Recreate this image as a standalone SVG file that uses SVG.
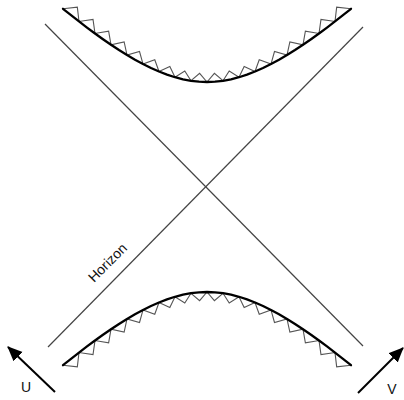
<svg xmlns="http://www.w3.org/2000/svg" width="404" height="400" viewBox="0 0 404 400">
<style>
.bg{fill:#fff}
.axis{stroke:#444;stroke-width:1.2;fill:none}
.curve{stroke:#000;stroke-width:2.3;fill:none;stroke-linejoin:round;stroke-linecap:round}
.teeth{stroke:#555;stroke-width:1.1;fill:none;stroke-linejoin:miter}
.arrow{stroke:#000;stroke-width:2;fill:none}
.lbl{font-family:"Liberation Sans",Arial,sans-serif;font-size:14px;fill:#111}
</style>
<defs>
<marker id="ah" markerUnits="userSpaceOnUse" markerWidth="16" markerHeight="14" refX="14" refY="6.5" orient="auto">
<path d="M0,0 L15,6.5 L0,13 z" fill="#000"/>
</marker>
</defs>
<rect class="bg" x="0" y="0" width="404" height="400"/>
<g id="connectors">
<line id="horizon-a" class="axis" x1="45" y1="24" x2="363" y2="346"/>
<line id="horizon-b" class="axis" x1="48" y1="347" x2="363" y2="27"/>
</g>
<g id="top-singularity">
<polyline class="teeth" points="63,8.78 77.33,7.11 79,21.44 93.02,19.46 95,33.48 108.63,31.11 111,44.73 124.14,41.87 127,55 139.52,51.52 143,64.03 154.76,59.79 159,71.55 169.84,66.39 175,77.23 184.78,71.01 191,80.79 199.61,73.4 207,82 214.4,73.4 223,80.79 229.22,71.01 239,77.23 244.16,66.39 255,71.55 259.24,59.79 271,64.03 274.49,51.52 287,55 289.87,41.87 303,44.73 305.38,31.11 319,33.48 320.98,19.46 335,21.44 336.67,7.11 351,8.78"/>
<polyline class="curve" points="63,8.78 71,15.18 79,21.44 87,27.55 95,33.48 103,39.21 111,44.73 119,50 127,55 135,59.69 143,64.03 151,68 159,71.55 167,74.64 175,77.23 183,79.29 191,80.79 199,81.7 207,82 215,81.7 223,80.79 231,79.29 239,77.23 247,74.64 255,71.55 263,68 271,64.03 279,59.69 287,55 295,50 303,44.73 311,39.21 319,33.48 327,27.55 335,21.44 343,15.18 351,8.78"/>
</g>
<g id="bottom-singularity">
<polyline class="teeth" points="63,365.22 77.33,366.89 79,352.56 93.02,354.54 95,340.52 108.63,342.89 111,329.27 124.14,332.13 127,319 139.52,322.48 143,309.97 154.76,314.21 159,302.45 169.84,307.61 175,296.77 184.78,302.99 191,293.21 199.61,300.6 207,292 214.4,300.6 223,293.21 229.22,302.99 239,296.77 244.16,307.61 255,302.45 259.24,314.21 271,309.97 274.49,322.48 287,319 289.87,332.13 303,329.27 305.38,342.89 319,340.52 320.98,354.54 335,352.56 336.67,366.89 351,365.22"/>
<polyline class="curve" points="63,365.22 71,358.82 79,352.56 87,346.45 95,340.52 103,334.79 111,329.27 119,324 127,319 135,314.31 143,309.97 151,306 159,302.45 167,299.36 175,296.77 183,294.71 191,293.21 199,292.3 207,292 215,292.3 223,293.21 231,294.71 239,296.77 247,299.36 255,302.45 263,306 271,309.97 279,314.31 287,319 295,324 303,329.27 311,334.79 319,340.52 327,346.45 335,352.56 343,358.82 351,365.22"/>
</g>
<g id="horizon-label">
<text class="lbl" font-size="14" text-anchor="middle" transform="translate(111,266) rotate(-45)">Horizon</text>
</g>
<g id="u-axis">
<line class="arrow" x1="55" y1="392" x2="8" y2="347" marker-end="url(#ah)"/>
<text class="lbl" x="26" y="392" text-anchor="middle">U</text>
</g>
<g id="v-axis">
<line class="arrow" x1="358" y1="393" x2="403" y2="348" marker-end="url(#ah)"/>
<text class="lbl" x="392" y="394" text-anchor="middle">V</text>
</g>
</svg>
